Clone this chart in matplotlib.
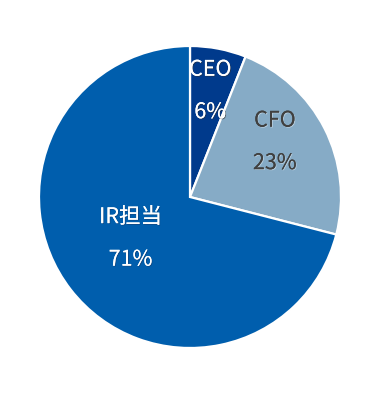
import matplotlib
matplotlib.use("Agg")
import matplotlib.pyplot as plt
import matplotlib.patheffects as pe
import numpy as np

plt.rcParams['font.family'] = ['Noto Sans CJK JP', 'DejaVu Sans']

categories = ["CEO", "CFO", "IR担当"]
values = [6, 23, 71]
pct_labels = ["6%", "23%", "71%"]
colors = ["#003A8C", "#86ABC6", "#005EAD"]
text_colors = ["white", "#404040", "white"]
shadow_colors = ["#333333", "#D8E4EE", "#1a3a66"]
label_dist = [0.715, 0.67, 0.48]
angle_shift = [0, 6, -3]

W, H = 380, 395
fig = plt.figure(figsize=(W / 100, H / 100), dpi=100)
cx, cy, r = 190, 197, 151
ax = fig.add_axes([(cx - r) / W, (H - cy - r) / H, 2 * r / W, 2 * r / H])
wedges, _ = ax.pie(values, colors=colors, startangle=90, counterclock=False,
                   wedgeprops=dict(edgecolor="white", linewidth=1.6), radius=1)
ax.set_xlim(-1, 1)
ax.set_ylim(-1, 1)
ax.set_aspect("equal")
ax.axis("off")

for w, lab, pct, tc, sc, d, sh in zip(wedges, categories, pct_labels, text_colors,
                                       shadow_colors, label_dist, angle_shift):
    ang = np.deg2rad((w.theta1 + w.theta2) / 2 + sh)
    x, y = d * np.cos(ang), d * np.sin(ang)
    eff = [pe.withSimplePatchShadow(offset=(0.6, -0.6), shadow_rgbFace=sc, alpha=0.6), pe.Normal()]
    ax.annotate(lab, (x, y), xytext=(0, 15.3), textcoords="offset points",
                ha="center", va="center", fontsize=15.5, color=tc, path_effects=eff)
    ax.annotate(pct, (x, y), xytext=(0, -15.3), textcoords="offset points",
                ha="center", va="center", fontsize=15.5, color=tc, path_effects=eff)

fig.savefig("out.png", dpi=100)
